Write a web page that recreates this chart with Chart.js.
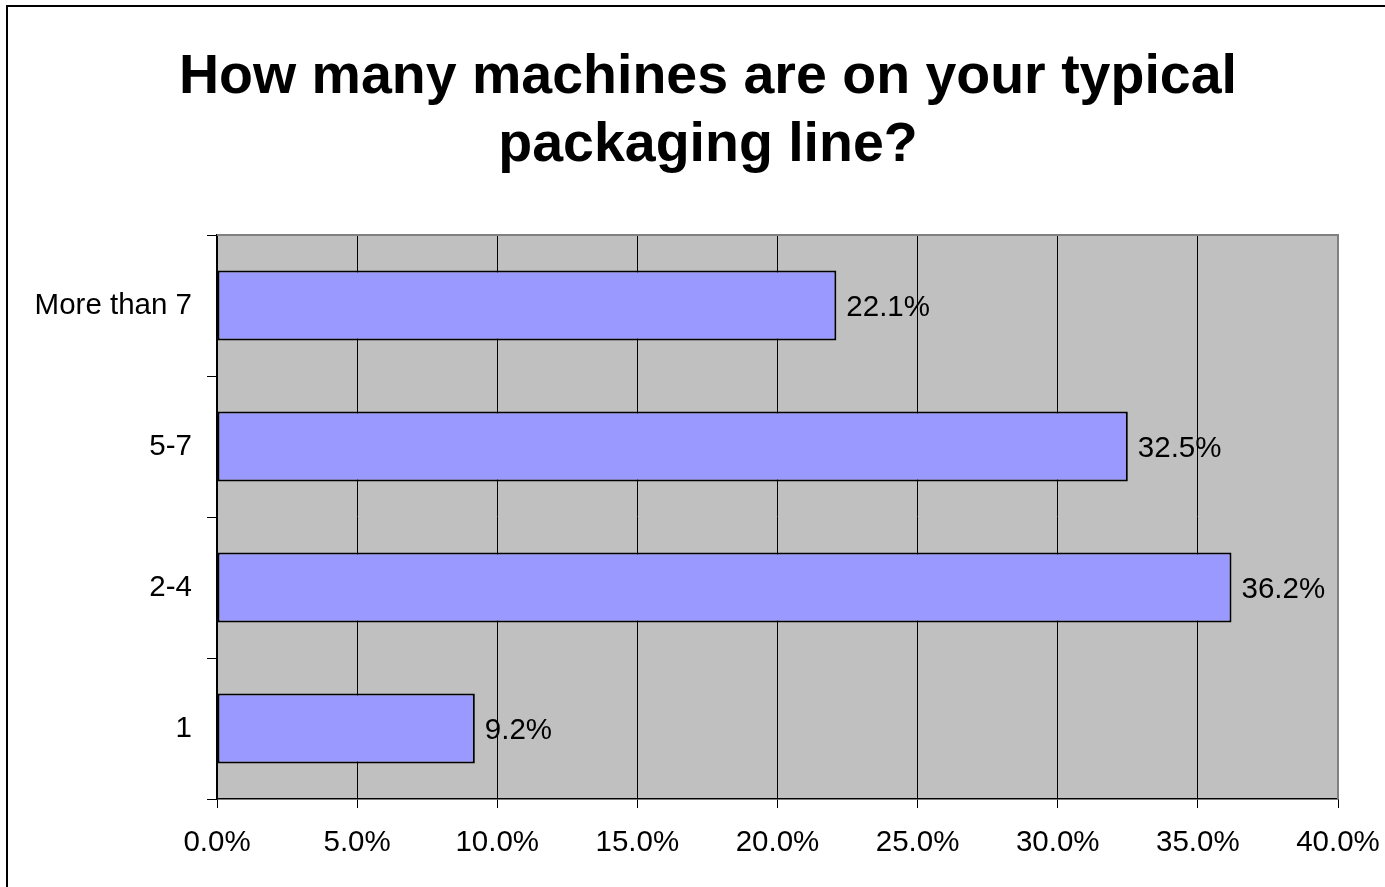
<!DOCTYPE html>
<html>
<head>
<meta charset="utf-8">
<script src="https://cdn.jsdelivr.net/npm/chart.js@4/dist/chart.umd.min.js"></script>
<style>
html,body{margin:0;padding:0;background:#fff;}
canvas{display:block;}
</style>
</head>
<body>
<canvas id="c" width="1385" height="887"></canvas>
<script>
const titleLines = ['How many machines are on your typical', 'packaging line?'];
const categories = ['More than 7', '5-7', '2-4', '1'];
const values = [22.1, 32.5, 36.2, 9.2];
const xMin = 0, xMax = 40, xStep = 5;

const FONT = "'Liberation Sans', Arial, Helvetica, sans-serif";

const framePlugin = {
  id: 'frame',
  beforeDraw(chart) {
    const {ctx, chartArea: a} = chart;
    ctx.save();
    ctx.fillStyle = '#fff';
    ctx.fillRect(0, 0, chart.width, chart.height);
    ctx.strokeStyle = '#000';
    ctx.lineWidth = 2;
    ctx.beginPath();
    ctx.moveTo(7, chart.height + 2);
    ctx.lineTo(7, 6);
    ctx.lineTo(chart.width + 2, 6);
    ctx.stroke();
    ctx.fillStyle = '#C0C0C0';
    ctx.fillRect(a.left, a.top, a.right - a.left, a.bottom - a.top);
    ctx.fillStyle = '#000';
    ctx.font = 'bold 55.5px ' + FONT;
    ctx.textAlign = 'center';
    ctx.textBaseline = 'alphabetic';
    ctx.fillText(titleLines[0], 708, 93);
    ctx.fillText(titleLines[1], 708, 161);
    ctx.restore();
  },
  beforeDatasetsDraw(chart) {
    const {ctx, chartArea: a} = chart;
    ctx.save();
    ctx.strokeStyle = '#808080';
    ctx.lineWidth = 2;
    ctx.beginPath();
    ctx.moveTo(a.left, a.top);
    ctx.lineTo(a.right, a.top);
    ctx.lineTo(a.right, a.bottom);
    ctx.stroke();
    ctx.restore();
  },
  afterDatasetsDraw(chart) {
    const {ctx} = chart;
    const meta = chart.getDatasetMeta(0);
    ctx.save();
    ctx.fillStyle = '#000';
    ctx.font = '29.5px ' + FONT;
    ctx.textAlign = 'left';
    ctx.textBaseline = 'middle';
    meta.data.forEach((bar, i) => {
      ctx.fillText(values[i].toFixed(1) + '%', bar.x + 10, bar.y + 2);
    });
    ctx.restore();
  }
};

new Chart(document.getElementById('c'), {
  type: 'bar',
  data: {
    labels: categories,
    datasets: [{
      data: values,
      backgroundColor: '#9999FF',
      borderColor: '#000',
      borderWidth: 2,
      borderSkipped: false,
      categoryPercentage: 1,
      barPercentage: 0.495
    }]
  },
  options: {
    indexAxis: 'y',
    responsive: false,
    devicePixelRatio: 1,
    animation: false,
    layout: {padding: {top: 235, right: 47, bottom: 0, left: 0}},
    plugins: {legend: {display: false}, title: {display: false}, tooltip: {enabled: false}},
    scales: {
      x: {
        min: xMin, max: xMax,
        ticks: {
          stepSize: xStep,
          color: '#000',
          font: {family: FONT, size: 29.5},
          padding: 17,
          maxRotation: 0,
          callback: v => Number(v).toFixed(1) + '%'
        },
        grid: {color: '#000', lineWidth: 1, tickLength: 9, drawOnChartArea: true},
        border: {color: '#000', width: 1.5},
        afterFit(s) { s.height = 88; s.paddingLeft = 0; s.paddingRight = 0; }
      },
      y: {
        ticks: {
          color: '#000',
          font: {family: FONT, size: 29.5},
          padding: 15
        },
        grid: {offset: true, drawOnChartArea: false, color: '#000', tickLength: 10, lineWidth: 1},
        border: {color: '#000', width: 1.5},
        afterFit(s) { s.width = 217; s.paddingTop = 0; s.paddingBottom = 0; }
      }
    }
  },
  plugins: [framePlugin]
});
</script>
</body>
</html>
